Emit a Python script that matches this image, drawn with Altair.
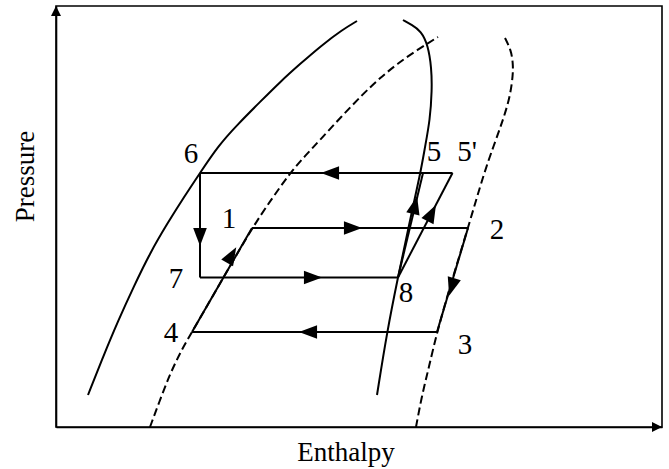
import math
import altair as alt
import pandas as pd

# ---------------- data (x = enthalpy, y = pressure, arbitrary units) ----
X_MAX, Y_MAX = 606, 421

# saturated liquid line (solid, left)
liq_x = [32, 47, 62, 78, 94, 111, 128, 144, 162, 182, 205, 224, 244, 266, 286, 301]
liq_y = [32, 70, 106, 141, 174, 203, 230, 254, 281, 303, 326, 345, 363, 382, 397, 406]
# saturated vapour line (solid, right)
vap_x = [321, 331, 342, 353, 364.5, 369, 374, 376, 375.5, 372, 365, 356, 347]
vap_y = [32, 95, 150, 202, 254, 280, 307, 337, 359, 382, 396, 402, 407]
# dashed line, left
dl_x = [94, 104, 114, 125, 136, 166, 196, 215, 234, 249, 264, 285, 307, 324, 341, 361, 382]
dl_y = [0, 27, 53, 76, 95, 147, 199, 227, 254, 271, 287, 310, 333, 349, 363, 377, 390]
# dashed line, right
dr_x = [360, 366, 373, 381, 396, 412, 428, 438, 447, 454, 457, 457, 455, 449]
dr_y = [0, 32, 60, 95, 147, 199, 254, 282, 307, 330, 352, 364, 377, 389]

# cycle state points
state_names = ["1", "2", "3", "4", "5", "5'", "6", "7", "8"]
state_x = [196, 412, 381, 136, 367, 396.5, 144, 144, 342]
state_y = [199, 199, 95, 95, 254, 254, 254, 149.5, 149.5]

# process segments (from, to)
seg_from = ["5'", "8", "8", "6", "7", "4", "1", "2", "3"]
seg_to = ["6", "5'", "5", "7", "8", "1", "2", "3", "4"]

# arrow heads on the segments (from, to, position)
arr_from = ["5'", "8", "8", "6", "7", "4", "1", "2", "3"]
arr_to = ["6", "5'", "5", "7", "8", "1", "2", "3", "4"]
arr_x = [274, 375.7, 359, 144, 257, 175.7, 297, 395.7, 252]
arr_y = [254, 214, 222, 190, 149.5, 172, 199, 140, 95]

# point labels
lab_text = ["6", "5", "5'", "1", "2", "7", "8", "4", "3"]
lab_x = [135, 378, 411, 173, 441, 120, 350, 115, 409]
lab_y = [273, 275, 275, 208, 197, 148, 134, 94, 82]

# ---------------- tables ----------------
def curve_df(name, xs, ys):
    return pd.DataFrame({"curve": name, "x": xs, "y": ys, "i": range(len(xs))})

solid = pd.concat([curve_df("liq", liq_x, liq_y), curve_df("vap", vap_x, vap_y)])
dashed = pd.concat([curve_df("dl", dl_x, dl_y), curve_df("dr", dr_x, dr_y)])

pos = {n: (x, y) for n, x, y in zip(state_names, state_x, state_y)}
segs = pd.DataFrame({
    "x": [pos[a][0] for a in seg_from], "y": [pos[a][1] for a in seg_from],
    "x2": [pos[b][0] for b in seg_to], "y2": [pos[b][1] for b in seg_to],
})

def ang(a, b):
    dx = pos[b][0] - pos[a][0]
    dy = pos[b][1] - pos[a][1]
    return math.degrees(math.atan2(dx, dy)) % 360

arrows = pd.DataFrame({"x": arr_x, "y": arr_y,
                       "angle": [ang(a, b) for a, b in zip(arr_from, arr_to)]})
labels = pd.DataFrame({"t": lab_text, "x": lab_x, "y": lab_y})
axis_arrows = pd.DataFrame({"x": [0, X_MAX], "y": [Y_MAX, 0], "angle": [0, 90]})

FONT = "Liberation Serif"

def X(field="x"):
    return alt.X(f"{field}:Q", scale=alt.Scale(domain=[0, X_MAX], nice=False, zero=False),
                 axis=alt.Axis(title="Enthalpy", ticks=False, labels=False, grid=False,
                               domainColor="black", domainWidth=1.6,
                               titleFont=FONT, titleFontSize=27, titleFontWeight="normal",
                               titleColor="black", titleX=289.5, titleY=25,
                               titleBaseline="middle"))

def Y(field="y"):
    return alt.Y(f"{field}:Q", scale=alt.Scale(domain=[0, Y_MAX], nice=False, zero=False),
                 axis=alt.Axis(title="Pressure", ticks=False, labels=False, grid=False,
                               domainColor="black", domainWidth=1.6,
                               titleFont=FONT, titleFontSize=27, titleFontWeight="normal",
                               titleColor="black", titleX=-31, titleY=170,
                               titleBaseline="middle"))

solid_layer = alt.Chart(solid).mark_line(color="black", strokeWidth=2,
                                         interpolate="basis").encode(
    x=X(), y=Y(), detail="curve:N", order="i:Q")

dashed_layer = alt.Chart(dashed).mark_line(color="black", strokeWidth=2, strokeDash=[8, 4],
                                           interpolate="basis").encode(
    x=X(), y=Y(), detail="curve:N", order="i:Q")

seg_layer = alt.Chart(segs).mark_rule(color="black", strokeWidth=2).encode(
    x=X(), y=Y(), x2="x2:Q", y2="y2:Q")

ARROW = "M0,-1L0.75,1L-0.75,1Z"
arrow_layer = alt.Chart(arrows).mark_point(shape=ARROW, filled=True, color="black",
                                           opacity=1, size=330, strokeWidth=0).encode(
    x=X(), y=Y(), angle=alt.Angle("angle:Q", scale=None))

AXARROW = "M0,0L0.5,1L-0.5,1Z"
axis_arrow_layer = alt.Chart(axis_arrows).mark_point(shape=AXARROW, filled=True,
                                                     color="black", opacity=1, size=400,
                                                     strokeWidth=0, clip=False).encode(
    x=X(), y=Y(), angle=alt.Angle("angle:Q", scale=None))

label_layer = alt.Chart(labels).mark_text(font=FONT, fontSize=29, color="black",
                                          align="center", baseline="middle").encode(
    x=X(), y=Y(), text="t:N")

chart = alt.layer(solid_layer, dashed_layer, seg_layer, arrow_layer, axis_arrow_layer,
                  label_layer).properties(
    width=X_MAX, height=Y_MAX,
    autosize=alt.AutoSizeParams(type="none"),
    padding={"left": 56, "top": 6, "right": 7, "bottom": 42},
    background="white",
).configure_view(stroke="black", strokeWidth=1.6)

chart.save("out.html", embed_options={"renderer": "svg", "actions": False})
